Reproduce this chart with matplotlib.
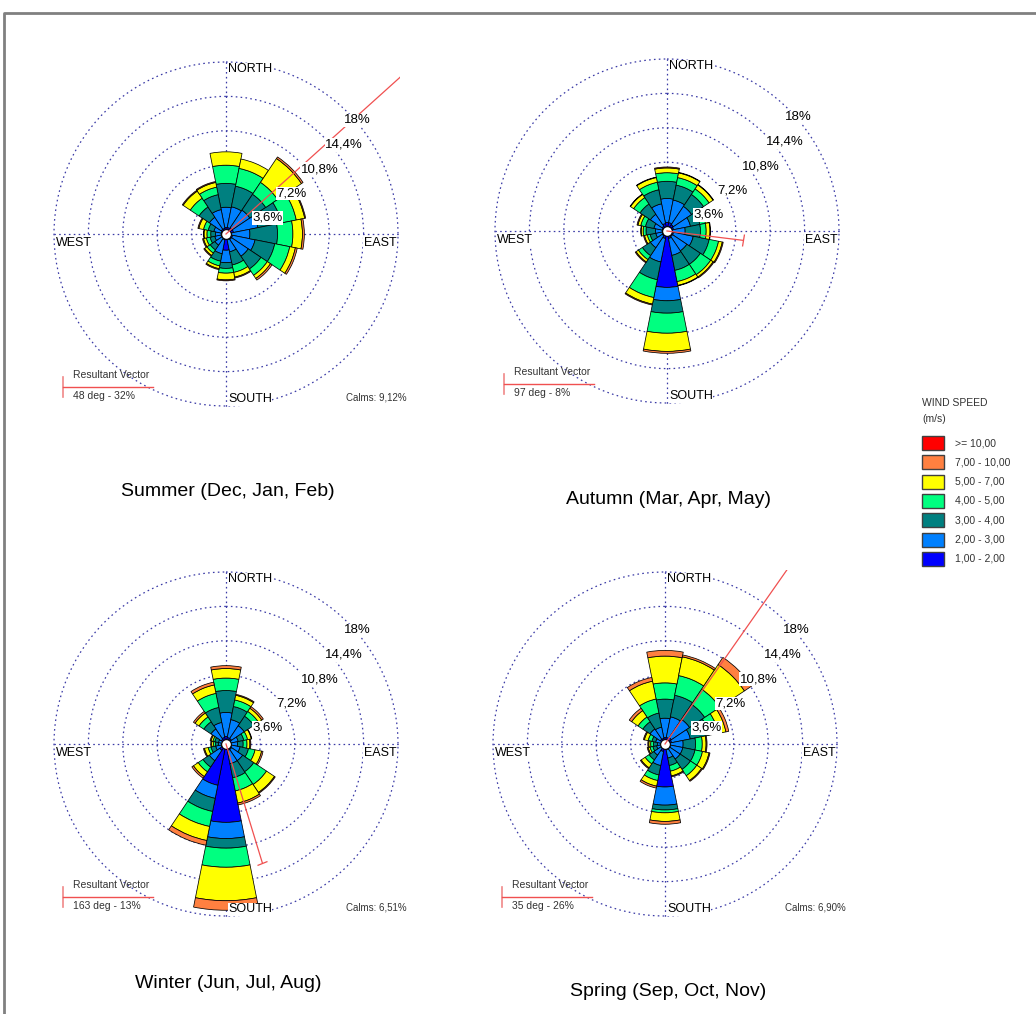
import numpy as np
import matplotlib
matplotlib.use('Agg')
import matplotlib.pyplot as plt
from matplotlib.patches import Rectangle
from matplotlib.markers import MarkerStyle
from matplotlib.transforms import Affine2D

plt.rcParams['font.family'] = ['Liberation Sans', 'DejaVu Sans']

# ---- data ----
directions = ['N', 'NNE', 'NE', 'ENE', 'E', 'ESE', 'SE', 'SSE',
              'S', 'SSW', 'SW', 'WSW', 'W', 'WNW', 'NW', 'NNW']
speed_labels = ['1,00 - 2,00', '2,00 - 3,00', '3,00 - 4,00', '4,00 - 5,00',
                '5,00 - 7,00', '7,00 - 10,00', '>= 10,00']
speed_colors = ['#0000FF', '#0080FF', '#008080', '#00FF80',
                '#FFFF00', '#FF8040', '#FF0000']

# frequency (%) : one row per speed class, one column per direction (N .. NNW)
summer = [
    [0.7, 0.7, 0.8, 0.8, 0.6, 0.7, 0.7, 0.6, 1.7, 0.6, 0.5, 0.5, 0.5, 0.5, 0.6, 0.6],
    [2.1, 2.2, 2.2, 2.6, 1.9, 2.4, 2.1, 1.3, 1.3, 1.5, 0.9, 0.7, 0.6, 0.8, 1.5, 2.0],
    [2.5, 2.2, 2.0, 2.5, 2.9, 2.1, 1.6, 1.4, 0.6, 0.8, 0.6, 0.5, 0.5, 0.6, 1.3, 1.6],
    [1.9, 1.9, 1.5, 1.6, 1.6, 1.6, 0.8, 0.8, 0.5, 0.5, 0.4, 0.4, 0.4, 0.5, 1.1, 0.8],
    [1.4, 1.0, 3.0, 0.9, 1.0, 0.6, 0.4, 0.5, 0.7, 0.3, 0.3, 0.3, 0.3, 0.5, 0.9, 0.5],
    [0.0, 0.0, 0.2, 0.1, 0.2, 0.2, 0.2, 0.1, 0.1, 0.1, 0.1, 0.1, 0.05, 0.1, 0.1, 0.1],
    [0.0, 0.0, 0.0, 0.0, 0.0, 0.0, 0.0, 0.0, 0.0, 0.0, 0.0, 0.0, 0.0, 0.0, 0.0, 0.0],
]
autumn = [
    [0.9, 0.9, 0.8, 0.7, 0.5, 0.7, 0.7, 0.8, 5.9, 0.8, 0.6, 0.5, 0.5, 0.5, 0.6, 0.8],
    [2.5, 2.4, 2.3, 1.8, 1.4, 2.1, 1.8, 1.8, 1.4, 2.5, 1.5, 0.7, 0.7, 0.9, 1.5, 2.1],
    [1.8, 1.6, 1.5, 1.0, 1.6, 1.7, 1.7, 1.6, 1.3, 1.9, 1.0, 0.6, 1.0, 0.9, 1.3, 1.5],
    [0.9, 0.8, 0.7, 0.6, 0.6, 1.0, 1.3, 1.2, 2.1, 1.9, 0.5, 0.3, 0.3, 0.5, 0.8, 0.8],
    [0.5, 0.5, 0.5, 0.3, 0.4, 0.4, 0.3, 0.4, 1.9, 0.7, 0.3, 0.3, 0.2, 0.3, 0.4, 0.5],
    [0.1, 0.05, 0.05, 0.05, 0.05, 0.1, 0.1, 0.05, 0.2, 0.1, 0.1, 0.1, 0.05, 0.1, 0.05, 0.05],
    [0.0, 0.0, 0.0, 0.0, 0.0, 0.0, 0.0, 0.0, 0.0, 0.0, 0.0, 0.0, 0.0, 0.0, 0.0, 0.0],
]
winter = [
    [0.8, 0.7, 0.7, 0.5, 0.5, 0.6, 0.7, 0.7, 8.2, 4.4, 0.8, 0.5, 0.4, 0.4, 0.6, 0.7],
    [2.5, 1.9, 1.6, 0.8, 0.7, 0.9, 1.4, 1.4, 1.7, 1.4, 1.3, 0.6, 0.4, 0.4, 1.3, 1.6],
    [2.3, 1.4, 1.2, 0.6, 0.6, 0.9, 1.4, 1.5, 1.0, 1.4, 0.8, 0.5, 0.3, 0.4, 0.9, 1.6],
    [1.3, 0.7, 0.6, 0.4, 0.4, 0.7, 1.6, 1.4, 2.0, 1.6, 0.6, 0.3, 0.2, 0.2, 0.6, 1.5],
    [1.0, 0.5, 0.4, 0.4, 0.3, 0.7, 1.0, 1.3, 3.5, 1.5, 0.6, 0.4, 0.2, 0.2, 0.5, 0.9],
    [0.3, 0.1, 0.2, 0.05, 0.1, 0.15, 0.1, 0.2, 1.0, 0.5, 0.2, 0.1, 0.1, 0.1, 0.2, 0.3],
    [0.0, 0.0, 0.0, 0.0, 0.0, 0.0, 0.0, 0.0, 0.0, 0.0, 0.0, 0.0, 0.0, 0.0, 0.0, 0.0],
]
spring = [
    [0.7, 0.7, 0.8, 0.7, 0.5, 0.6, 0.6, 0.6, 4.5, 0.8, 0.5, 0.4, 0.4, 0.4, 0.6, 0.6],
    [2.0, 2.2, 2.3, 2.0, 1.4, 1.3, 1.3, 0.9, 1.9, 1.5, 0.9, 0.5, 0.4, 0.6, 1.3, 1.2],
    [2.0, 2.3, 1.9, 2.0, 1.3, 1.3, 1.3, 0.8, 0.5, 1.0, 0.6, 0.4, 0.4, 0.4, 0.9, 1.5],
    [1.7, 2.1, 1.9, 1.0, 0.7, 0.8, 0.8, 0.6, 0.3, 0.6, 0.5, 0.3, 0.3, 0.4, 0.6, 1.5],
    [2.8, 2.0, 3.1, 0.8, 0.4, 0.7, 0.6, 0.5, 0.9, 0.6, 0.5, 0.2, 0.2, 0.4, 0.8, 1.9],
    [0.6, 0.2, 0.9, 0.3, 0.1, 0.1, 0.1, 0.1, 0.3, 0.2, 0.1, 0.1, 0.1, 0.1, 0.3, 0.4],
    [0.0, 0.0, 0.0, 0.0, 0.0, 0.0, 0.0, 0.0, 0.0, 0.0, 0.0, 0.0, 0.0, 0.0, 0.0, 0.0],
]

season_titles = ['Summer (Dec, Jan, Feb)', 'Autumn (Mar, Apr, May)',
                 'Winter (Jun, Jul, Aug)', 'Spring (Sep, Oct, Nov)']
resultant_deg = [48, 97, 163, 35]
resultant_pct = [32, 8, 13, 26]
calms = ['Calms: 9,12%', '', 'Calms: 6,51%', 'Calms: 6,90%']
ring_levels = [3.6, 7.2, 10.8, 14.4, 18.0]
ring_labels = ['3,6%', '7,2%', '10,8%', '14,4%', '18%']

# ---- layout (pixels) ----
W, H = 1036, 1014
R = 172                      # radius of the 18 % ring
RMAX = 18.2                  # a little room so the outer ring is not cut
RA = R * RMAX / 18.0
centers = [(226, 234), (667, 231), (226, 744), (665, 744)]
title_xy = [(228, 492), (668, 500), (228, 983), (668, 991)]
ring_dx = [1.5, 1.5, 1.5, 1.5, -3.0]
grid_col = '#3a3aa6'
vec_col = '#f05050'

fig = plt.figure(figsize=(W / 100, H / 100), dpi=100)

theta = np.deg2rad(np.arange(len(directions)) * 22.5)
width = 2 * np.pi / len(directions)

for data, (cx, cy), deg, pct in zip([summer, autumn, winter, spring], centers,
                                    resultant_deg, resultant_pct):
    ax = fig.add_axes([(cx - RA) / W, 1 - (cy + RA) / H, 2 * RA / W, 2 * RA / H],
                      projection='polar')
    ax.set_theta_zero_location('N')
    ax.set_theta_direction(-1)
    ax.patch.set_alpha(0)

    bottom = np.zeros(len(directions))
    for vals, col in zip(data, speed_colors):
        vals = np.array(vals, dtype=float)
        m = vals > 0
        if m.any():
            ax.bar(theta[m], vals[m], width=width, bottom=bottom[m], color=col,
                   edgecolor='black', linewidth=0.55, zorder=2)
        bottom += vals

    # calm circle at the centre
    ax.plot([0], [0], 'o', ms=7, mfc='white', mec='black', mew=0.8, zorder=3)

    # resultant vector (clipped to the panel square)
    t = np.deg2rad(deg)
    ln, = ax.plot([t, t], [0, pct], color=vec_col, lw=0.9, zorder=4)
    tick, = ax.plot([t], [pct], ls='none', color=vec_col, ms=8, mew=0.9,
                    marker=MarkerStyle('|', transform=Affine2D().rotate_deg(90 - deg)),
                    zorder=4)
    for art in (ln, tick):
        art.set_clip_path(None)
        art.set_clip_box(ax.bbox)

    ax.set_rlim(0, RMAX)
    ax.set_rticks(ring_levels)
    ax.set_yticklabels([])
    ax.set_xticks(np.deg2rad([0, 90, 180, 270]))
    ax.set_xticklabels([])
    ax.tick_params(length=0)
    ax.grid(True, color=grid_col, linestyle=(0, (1.3, 2.6)), linewidth=0.9)
    ax.set_axisbelow(True)
    ax.spines['polar'].set_visible(False)

    # ring labels
    for lvl, lab, dx in zip(ring_levels, ring_labels, ring_dx):
        ax.annotate(lab, xy=(np.pi / 4, lvl), xytext=(dx, -1.5),
                    textcoords='offset points', ha='left', va='top', fontsize=9.5,
                    bbox=dict(fc='white', ec='none', pad=0.6), zorder=6,
                    annotation_clip=False)

    # compass labels
    wb = dict(fc='white', ec='none', pad=0.4)
    ax.annotate('NORTH', xy=(0, 18), xytext=(1.5, -0.8), textcoords='offset points',
                ha='left', va='top', fontsize=9, bbox=wb, zorder=6, annotation_clip=False)
    ax.annotate('SOUTH', xy=(np.pi, 18), xytext=(1.5, 0.5), textcoords='offset points',
                ha='left', va='bottom', fontsize=9, bbox=wb, zorder=6, annotation_clip=False)
    ax.annotate('EAST', xy=(np.pi / 2, 18), xytext=(-1, -2.5), textcoords='offset points',
                ha='right', va='top', fontsize=9, bbox=wb, zorder=6, annotation_clip=False)
    ax.annotate('WEST', xy=(3 * np.pi / 2, 18), xytext=(1.5, -2.5), textcoords='offset points',
                ha='left', va='top', fontsize=9, bbox=wb, zorder=6, annotation_clip=False)

# ---- overlay in pixel coordinates ----
ov = fig.add_axes([0, 0, 1, 1])
ov.set_xlim(0, W)
ov.set_ylim(H, 0)
ov.axis('off')

# frame
ov.plot([4, 4, W], [H, 13, 13], color='#808080', lw=2, solid_capstyle='butt')

for (cx, cy), (tx, ty), title, deg, pct, calm in zip(centers, title_xy, season_titles,
                                                     resultant_deg, resultant_pct, calms):
    ov.text(tx, ty, title, ha='center', va='center', fontsize=14)
    # resultant vector key
    ov.plot([cx - 163, cx - 163], [cy + 143, cy + 163], color='#f08888', lw=1.2)
    ov.plot([cx - 163, cx - 73], [cy + 153, cy + 153], color=vec_col, lw=1)
    ov.text(cx - 153, cy + 141, 'Resultant Vector', fontsize=7.5, va='center',
            color='#333333')
    ov.text(cx - 153, cy + 162, f'{deg} deg - {pct}%', fontsize=7.5, va='center',
            color='#333333')
    if calm:
        ov.text(cx + 181, cy + 163, calm, fontsize=7, ha='right', va='center',
                color='#333333')

# wind speed legend
ov.text(922, 403, 'WIND SPEED', fontsize=7.5, va='center', color='#333333')
ov.text(922, 419, '(m/s)', fontsize=7.5, va='center', color='#333333')
for i, (lab, col) in enumerate(zip(speed_labels[::-1], speed_colors[::-1])):
    y = 436 + 19.3 * i
    ov.add_patch(Rectangle((922, y), 22, 14, fc=col, ec='#404040', lw=1))
    ov.text(955, y + 7, lab, fontsize=7.5, va='center', color='#333333')

fig.savefig('out.png', dpi=100)
